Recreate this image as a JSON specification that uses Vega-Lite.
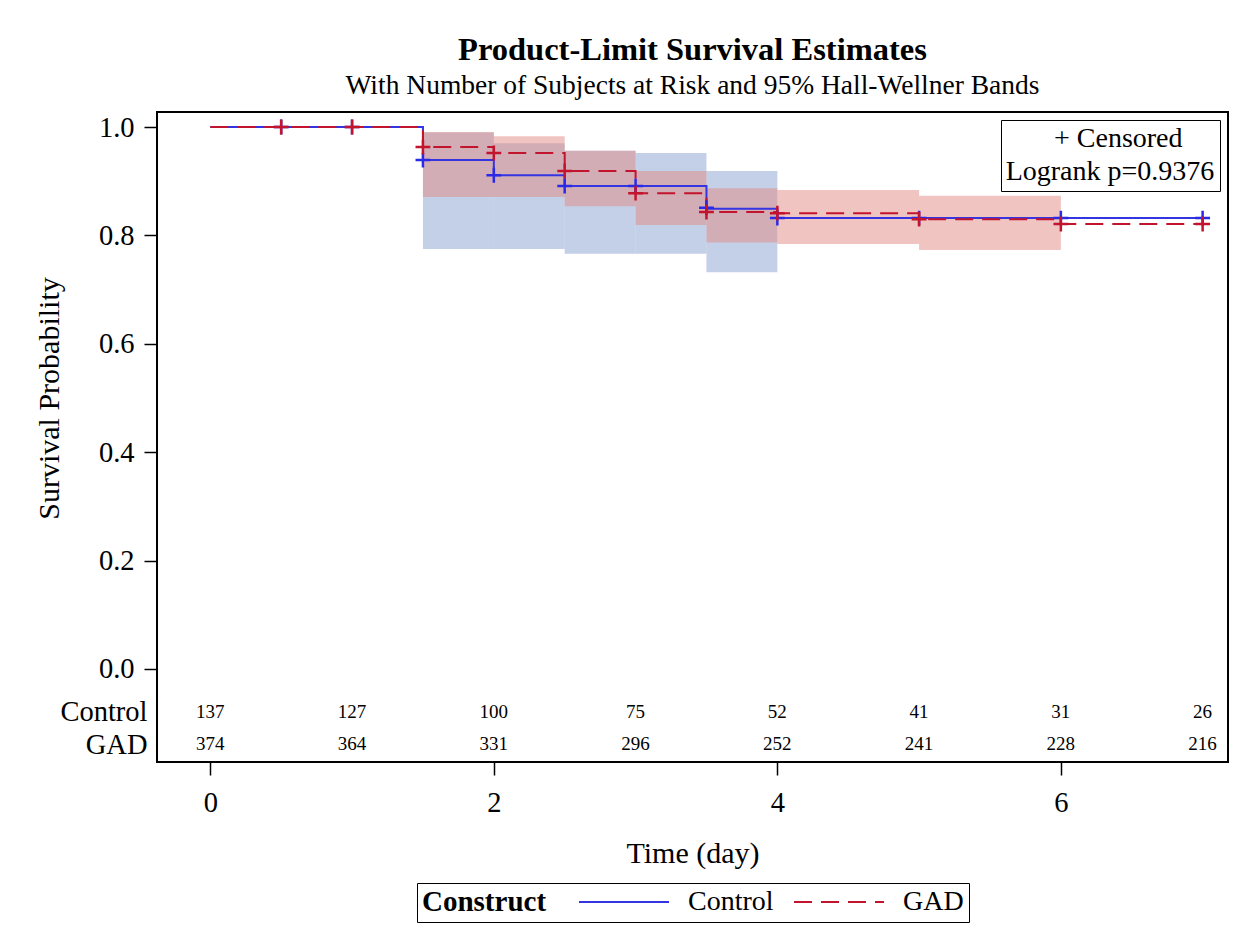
{
  "$schema": "https://vega.github.io/schema/vega-lite/v6.json",
  "autosize": "none",
  "width": 1071,
  "height": 650,
  "padding": {"left": 157, "top": 112, "right": 22, "bottom": 175},
  "background": "white",
  "title": {
    "text": "Product-Limit Survival Estimates",
    "subtitle": "With Number of Subjects at Risk and 95% Hall-Wellner Bands",
    "font": "Liberation Serif",
    "fontSize": 32.5,
    "fontWeight": "bold",
    "color": "black",
    "subtitleFont": "Liberation Serif",
    "subtitleFontSize": 27.5,
    "subtitleColor": "black",
    "subtitlePadding": 5,
    "anchor": "middle",
    "frame": "group",
    "offset": 13
  },
  "datasets": {
    "band": [
      {"group": "Control", "t0": 1.5, "t1": 2.0, "lo": 0.775, "hi": 0.990},
      {"group": "Control", "t0": 2.0, "t1": 2.5, "lo": 0.775, "hi": 0.970},
      {"group": "Control", "t0": 2.5, "t1": 3.0, "lo": 0.766, "hi": 0.956},
      {"group": "Control", "t0": 3.0, "t1": 3.5, "lo": 0.766, "hi": 0.952},
      {"group": "Control", "t0": 3.5, "t1": 4.0, "lo": 0.732, "hi": 0.919},
      {"group": "GAD", "t0": 1.5, "t1": 2.0, "lo": 0.871, "hi": 0.991},
      {"group": "GAD", "t0": 2.0, "t1": 2.5, "lo": 0.871, "hi": 0.983},
      {"group": "GAD", "t0": 2.5, "t1": 3.0, "lo": 0.854, "hi": 0.956},
      {"group": "GAD", "t0": 3.0, "t1": 3.5, "lo": 0.819, "hi": 0.919},
      {"group": "GAD", "t0": 3.5, "t1": 4.0, "lo": 0.787, "hi": 0.887},
      {"group": "GAD", "t0": 4.0, "t1": 5.0, "lo": 0.784, "hi": 0.884},
      {"group": "GAD", "t0": 5.0, "t1": 6.0, "lo": 0.773, "hi": 0.873}
    ],
    "curve": [
      {"group": "Control", "t": 0, "s": 1.0},
      {"group": "Control", "t": 1.5, "s": 0.939},
      {"group": "Control", "t": 2.0, "s": 0.911},
      {"group": "Control", "t": 2.5, "s": 0.891},
      {"group": "Control", "t": 3.5, "s": 0.849},
      {"group": "Control", "t": 4.0, "s": 0.832},
      {"group": "Control", "t": 7.0, "s": 0.832},
      {"group": "GAD", "t": 0, "s": 1.0},
      {"group": "GAD", "t": 1.5, "s": 0.963},
      {"group": "GAD", "t": 2.0, "s": 0.952},
      {"group": "GAD", "t": 2.5, "s": 0.919},
      {"group": "GAD", "t": 3.0, "s": 0.878},
      {"group": "GAD", "t": 3.5, "s": 0.843},
      {"group": "GAD", "t": 4.0, "s": 0.841},
      {"group": "GAD", "t": 5.0, "s": 0.830},
      {"group": "GAD", "t": 6.0, "s": 0.821},
      {"group": "GAD", "t": 7.0, "s": 0.821}
    ],
    "cens": [
      {"group": "Control", "t": 0.5, "s": 1.0},
      {"group": "Control", "t": 1.0, "s": 1.0},
      {"group": "Control", "t": 1.5, "s": 0.939},
      {"group": "Control", "t": 2.0, "s": 0.911},
      {"group": "Control", "t": 2.5, "s": 0.891},
      {"group": "Control", "t": 3.0, "s": 0.891},
      {"group": "Control", "t": 3.5, "s": 0.851},
      {"group": "Control", "t": 4.0, "s": 0.832},
      {"group": "Control", "t": 5.0, "s": 0.832},
      {"group": "Control", "t": 6.0, "s": 0.832},
      {"group": "Control", "t": 7.0, "s": 0.832},
      {"group": "GAD", "t": 0.5, "s": 1.0},
      {"group": "GAD", "t": 1.0, "s": 1.0},
      {"group": "GAD", "t": 1.5, "s": 0.963},
      {"group": "GAD", "t": 2.0, "s": 0.952},
      {"group": "GAD", "t": 2.5, "s": 0.919},
      {"group": "GAD", "t": 3.0, "s": 0.878},
      {"group": "GAD", "t": 3.5, "s": 0.843},
      {"group": "GAD", "t": 4.0, "s": 0.841},
      {"group": "GAD", "t": 5.0, "s": 0.830},
      {"group": "GAD", "t": 6.0, "s": 0.821},
      {"group": "GAD", "t": 7.0, "s": 0.821}
    ],
    "risk": [
      {"group": "Control", "t": 0, "n": 137},
      {"group": "Control", "t": 1, "n": 127},
      {"group": "Control", "t": 2, "n": 100},
      {"group": "Control", "t": 3, "n": 75},
      {"group": "Control", "t": 4, "n": 52},
      {"group": "Control", "t": 5, "n": 41},
      {"group": "Control", "t": 6, "n": 31},
      {"group": "Control", "t": 7, "n": 26},
      {"group": "GAD", "t": 0, "n": 374},
      {"group": "GAD", "t": 1, "n": 364},
      {"group": "GAD", "t": 2, "n": 331},
      {"group": "GAD", "t": 3, "n": 296},
      {"group": "GAD", "t": 4, "n": 252},
      {"group": "GAD", "t": 5, "n": 241},
      {"group": "GAD", "t": 6, "n": 228},
      {"group": "GAD", "t": 7, "n": 216}
    ],
    "note": [
      {"note": "+ Censored"}
    ]
  },
  "layer": [
    {
      "data": {"name": "band"},
      "mark": {"type": "rect", "opacity": 0.5},
      "encoding": {
        "x": {
          "field": "t0", "type": "quantitative", "title": "Time (day)",
          "scale": {"domain": [-0.376, 7.179], "nice": false, "zero": false},
          "axis": {
            "values": [0, 2, 4, 6],
            "format": "d",
            "tickSize": 13,
            "labelPadding": 13,
            "titlePadding": 22,
            "labelFlush": false,
            "labelOverlap": false
          }
        },
        "x2": {"field": "t1"},
        "y": {
          "field": "lo", "type": "quantitative", "title": "Survival Probability",
          "scale": {"domain": [-0.1716, 1.0277], "nice": false, "zero": false},
          "axis": {
            "values": [1, 0.8, 0.6, 0.4, 0.2, 0, -0.0793, -0.1384],
            "labelExpr": "datum.value < -0.1 ? 'GAD' : (datum.value < -0.01 ? 'Control' : format(datum.value, '.1f'))",
            "tickOpacity": {"condition": {"test": "datum.value < -0.01", "value": 0}, "value": 1},
            "labelPadding": {"condition": {"test": "datum.value < -0.01", "value": -3}, "value": 10},
            "tickSize": 13,
            "labelFlush": false,
            "labelOverlap": false,
            "titleX": -99,
            "titleY": 286,
            "titleBaseline": "alphabetic"
          }
        },
        "y2": {"field": "hi"},
        "fill": {
          "field": "group", "type": "nominal",
          "scale": {"domain": ["GAD", "Control"], "range": ["#e18981", "#89a1d1"]},
          "legend": null
        }
      }
    },
    {
      "data": {"name": "curve"},
      "mark": {"type": "line", "interpolate": "step-after", "strokeWidth": 2},
      "encoding": {
        "x": {"field": "t", "type": "quantitative", "title": "Time (day)"},
        "y": {"field": "s", "type": "quantitative", "title": "Survival Probability"},
        "color": {
          "field": "group", "type": "nominal", "title": "Construct",
          "scale": {"domain": ["Control", "GAD"], "range": ["#3434e0", "#c3142d"]},
          "legend": {
            "orient": "none", "legendX": 260, "legendY": 771,
            "direction": "horizontal", "titleOrient": "left",
            "symbolType": "M-4.5,0H4.5", "symbolSize": 400, "symbolStrokeWidth": 2,
            "symbolOffset": 34, "labelOffset": 50, "columnPadding": 16
          }
        },
        "strokeDash": {
          "field": "group", "type": "nominal", "title": "Construct",
          "scale": {"domain": ["Control", "GAD"], "range": [[1, 0], [18, 9]]},
          "legend": {
            "orient": "none", "legendX": 260, "legendY": 771,
            "direction": "horizontal", "titleOrient": "left",
            "symbolType": "M-4.5,0H4.5", "symbolSize": 400, "symbolStrokeWidth": 2,
            "symbolOffset": 34, "labelOffset": 50, "columnPadding": 16
          }
        }
      }
    },
    {
      "data": {"name": "cens"},
      "mark": {"type": "point", "shape": "M-1,0H1M0,-1V1", "filled": false, "strokeWidth": 2.5, "size": 220, "opacity": 1},
      "encoding": {
        "x": {"field": "t", "type": "quantitative", "title": "Time (day)"},
        "y": {"field": "s", "type": "quantitative", "title": "Survival Probability"},
        "stroke": {
          "field": "group", "type": "nominal",
          "scale": {"domain": ["GAD", "Control"], "range": ["#c3142d", "#2a2ae6"]},
          "legend": null
        }
      }
    },
    {
      "data": {"name": "risk"},
      "transform": [{"filter": "datum.group === 'Control'"}],
      "mark": {"type": "text", "font": "Liberation Serif", "fontSize": 19, "align": "center", "baseline": "middle", "color": "black"},
      "encoding": {
        "x": {"field": "t", "type": "quantitative", "title": "Time (day)"},
        "y": {"datum": -0.0793, "type": "quantitative"},
        "text": {"field": "n", "type": "quantitative"}
      }
    },
    {
      "data": {"name": "risk"},
      "transform": [{"filter": "datum.group === 'GAD'"}],
      "mark": {"type": "text", "font": "Liberation Serif", "fontSize": 19, "align": "center", "baseline": "middle", "color": "black"},
      "encoding": {
        "x": {"field": "t", "type": "quantitative", "title": "Time (day)"},
        "y": {"datum": -0.1384, "type": "quantitative"},
        "text": {"field": "n", "type": "quantitative"}
      }
    },
    {
      "data": {"name": "note"},
      "mark": {"type": "point", "opacity": 0},
      "encoding": {
        "shape": {
          "field": "note", "type": "nominal",
          "scale": {"domain": ["+ Censored"]},
          "legend": {
            "orient": "top-right", "offset": 8,
            "title": "Logrank p=0.9376",
            "titleOrient": "bottom", "titleAnchor": "middle",
            "titleFontWeight": "normal", "titleFontSize": 28, "titlePadding": 5,
            "titleLimit": 400,
            "symbolOpacity": 0, "symbolSize": 0, "symbolStrokeWidth": 0,
            "labelOffset": -12,
            "labelFontSize": 28, "padding": 5
          }
        }
      }
    }
  ],
  "config": {
    "view": {"stroke": "black", "strokeWidth": 2},
    "font": "Liberation Serif",
    "axis": {
      "grid": false,
      "domain": false,
      "tickColor": "black",
      "tickWidth": 1.5,
      "labelFont": "Liberation Serif",
      "labelFontSize": 28.5,
      "labelColor": "black",
      "titleFont": "Liberation Serif",
      "titleFontSize": 30,
      "titleFontWeight": "normal",
      "titleColor": "black"
    },
    "legend": {
      "titleFont": "Liberation Serif",
      "titleFontSize": 29,
      "titleFontWeight": "bold",
      "titleColor": "black",
      "titlePadding": 29,
      "titleLimit": 400,
      "labelFont": "Liberation Serif",
      "labelFontSize": 28,
      "labelColor": "black",
      "labelLimit": 400,
      "strokeColor": "black",
      "fillColor": "white",
      "padding": 5
    }
  }
}
